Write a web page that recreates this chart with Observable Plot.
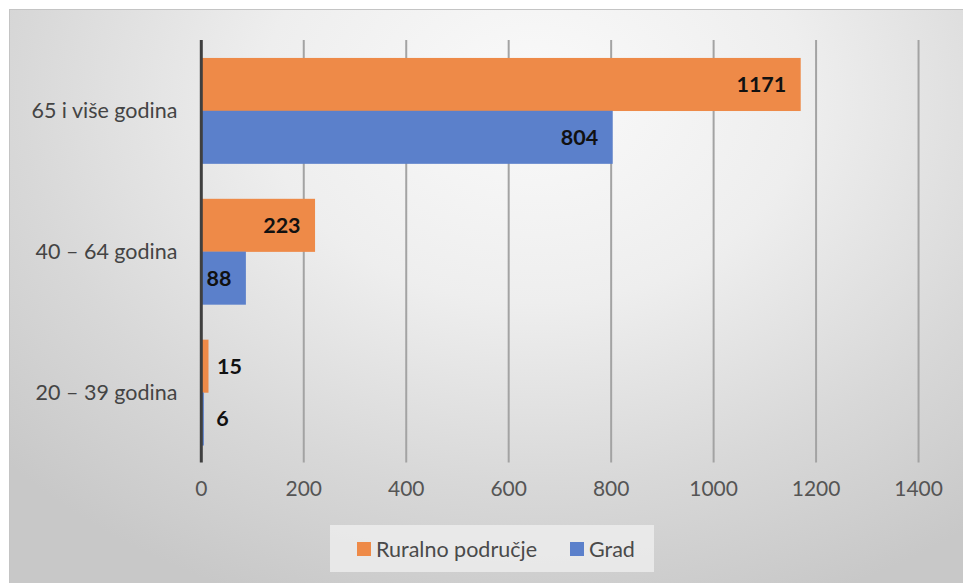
<!DOCTYPE html>
<html>
<head>
<meta charset="utf-8">
<script src="https://cdn.jsdelivr.net/npm/d3@7"></script>
<script src="https://cdn.jsdelivr.net/npm/@observablehq/plot@0.6"></script>
<style>
  html, body { margin: 0; padding: 0; background: #ffffff; }
  body { width: 963px; height: 583px; overflow: hidden; position: relative; font-family: Lato, "Open Sans", sans-serif; }
  #frame {
    position: absolute; left: 9px; top: 9px; width: 954px; height: 574px;
    border-top: 1px solid #c4c4c4; border-left: 1px solid #c4c4c4;
    background: radial-gradient(ellipse 75% 95% at 55% 15%, #fafafa 0%, #eeeeee 38%, #d8d8d8 72%, #c8c8c8 100%);
    box-sizing: border-box;
  }
  #chart { position: absolute; left: 0; top: 0; }
  #legend {
    position: absolute; left: 320px; top: 515px; width: 324px; height: 47px;
    background: rgba(240,240,240,0.75);
    font-size: 21.5px; color: #4a4a4a;
  }
  .item { display: flex; align-items: center; position: absolute; top: 0; height: 47px; }
  .sw { width: 14px; height: 14px; margin-right: 5px; }
</style>
</head>
<body>
<div id="frame">
  <div id="chart"></div>
  <div id="legend"></div>
</div>
<script>
const categories = ["65 i više godina", "40 – 64 godina", "20 – 39 godina"];
const seriesNames = ["Ruralno područje", "Grad"];
const ruralValues = [1171, 223, 15];
const gradValues = [804, 88, 6];
const xTicks = [0, 200, 400, 600, 800, 1000, 1200, 1400];
const colors = ["#EE8A48", "#5B80CB"];

const rows = [];
categories.forEach((c, i) => {
  rows.push({category: c, series: seriesNames[0], value: ruralValues[i]});
  rows.push({category: c, series: seriesNames[1], value: gradValues[i]});
});

const W = 954, H = 503;
const mTop = 30, mBottom = 50, mLeft = 191, mRight = 45;
const innerH = H - mTop - mBottom;
const pInner = 0.25, pOuter = 0.125;
const step = innerH / (categories.length - pInner + 2 * pOuter);
const bw = step * (1 - pInner);
const half = bw / 2;

const rural = rows.filter(d => d.series === seriesNames[0]);
const grad = rows.filter(d => d.series === seriesNames[1]);
const inside = d => d.value >= 50;
const outside = d => d.value < 50;
const lbl = {fill: "#111", fontWeight: "bold", fontSize: 21.5, text: d => String(d.value), y: "category", x: "value"};

const plot = Plot.plot({
  width: W,
  height: H,
  marginTop: mTop,
  marginBottom: mBottom,
  marginLeft: mLeft,
  marginRight: mRight,
  style: {background: "transparent", fontFamily: "Lato, 'Open Sans', sans-serif", fontSize: "21px", color: "#555555", overflow: "visible"},
  x: {domain: [0, 1400], ticks: xTicks, label: null, tickSize: 0, tickPadding: 18, tickFormat: d => String(d)},
  y: {domain: categories, paddingInner: pInner, paddingOuter: pOuter, label: null, tickSize: 0, tickPadding: 24},
  color: {domain: seriesNames, range: colors},
  marks: [
    Plot.ruleX(xTicks.filter(t => t > 0), {stroke: "#a3a3a3", strokeWidth: 2}),
    Plot.barX(rural, {y: "category", x: "value", fill: d => d.series, insetBottom: half}),
    Plot.barX(grad, {y: "category", x: "value", fill: d => d.series, insetTop: half}),
    Plot.ruleX([0], {stroke: "#3f3f3f", strokeWidth: 3}),
    Plot.axisY({tickSize: 0, tickPadding: 24, fontSize: 21.5, fill: "#444444"}),
    Plot.text(rural.filter(inside), {...lbl, dy: -half / 2, dx: -15, textAnchor: "end"}),
    Plot.text(grad.filter(inside), {...lbl, dy: half / 2, dx: -15, textAnchor: "end"}),
    Plot.text(rural.filter(outside), {...lbl, dy: -half / 2, dx: 8, textAnchor: "start"}),
    Plot.text(grad.filter(outside), {...lbl, dy: half / 2, dx: 12, textAnchor: "start"})
  ]
});
document.getElementById("chart").appendChild(plot);

const legend = document.getElementById("legend");
const itemLeft = [27, 240];
seriesNames.forEach((s, i) => {
  const it = document.createElement("div");
  it.className = "item";
  it.style.left = itemLeft[i] + "px";
  const sw = document.createElement("span");
  sw.className = "sw";
  sw.style.background = colors[i];
  const tx = document.createElement("span");
  tx.textContent = s;
  it.appendChild(sw);
  it.appendChild(tx);
  legend.appendChild(it);
});
</script>
</body>
</html>
